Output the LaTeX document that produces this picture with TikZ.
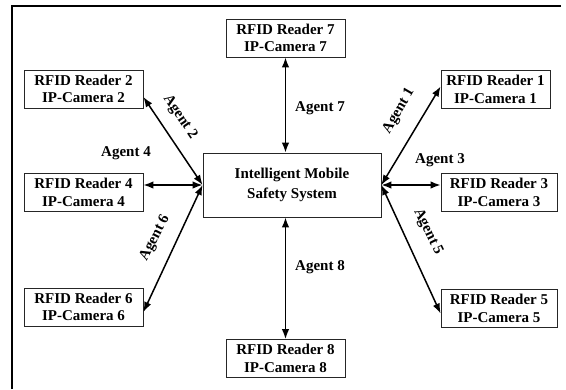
\documentclass[tikz,border=0pt]{standalone}
\usepackage{fontspec}
\setmainfont{Liberation Serif}
\usetikzlibrary{arrows.meta}
\begin{document}
\begin{tikzpicture}[x=1pt,y=-1pt,
  reader/.style={draw=black!85, line width=0.8pt, minimum width=119pt, minimum height=38pt,
    align=center, inner sep=2pt, font=\fontsize{15}{17.5}\selectfont\bfseries},
  central/.style={draw=black!85, line width=0.8pt, minimum width=178pt, minimum height=64pt,
    align=center, font=\fontsize{15}{20}\selectfont\bfseries},
  link/.style={line width=1.5pt, {Latex[length=10pt,width=7.5pt]}-{Latex[length=10pt,width=7.5pt]}},
  lbl/.style={font=\fontsize{15}{17}\selectfont\bfseries, inner sep=0pt},
  frame/.style={line width=1.8pt}]
\useasboundingbox (0,0) rectangle (566,389);
% frame (top and left edges)
\coordinate (fbl) at (12,389);
\coordinate (ftl) at (12,6);
\coordinate (ftr) at (561,6);
\draw[frame] (fbl) -- (ftl) -- (ftr);
% nodes
\node[central] (C) at (292,185) {Intelligent Mobile\\Safety System};
\node[reader] (R7) at (285.5,38) {RFID Reader 7\\IP-Camera 7};
\node[reader] (R2) at (83.5,89) {RFID Reader 2\\IP-Camera 2};
\node[reader, minimum width=109pt] (R1) at (495.5,89.5) {RFID Reader 1\\IP-Camera 1};
\node[reader] (R4) at (83.5,192.5) {RFID Reader 4\\IP-Camera 4};
\node[reader, minimum width=116pt] (R3) at (499,192.5) {RFID Reader 3\\IP-Camera 3};
\node[reader] (R6) at (83.5,307) {RFID Reader 6\\IP-Camera 6};
\node[reader, minimum width=116pt] (R5) at (499,308.5) {RFID Reader 5\\IP-Camera 5};
\node[reader] (R8) at (285.5,358.5) {RFID Reader 8\\IP-Camera 8};
% connector ends
\coordinate (e2) at ([yshift=-8pt]R2.east);
\coordinate (e1) at ([yshift=3pt]R1.west);
\coordinate (e6) at ([yshift=-5pt]R6.east);
\coordinate (e5) at ([yshift=-5pt]R5.west);
% connectors
\draw[link] (R7.south) -- (R7.south |- C.north);
\draw[link] (C.south -| R8.north) -- (R8.north);
\draw[link] (C.west) -- (C.west -| R4.east);
\draw[link] (C.east) -- (C.east -| R3.west);
\draw[link] (C.west) -- (e2);
\draw[link] (C.east) -- (e1);
\draw[link] (C.west) -- (e6);
\draw[link] (C.east) -- (e5);
% labels
\node[lbl] (a7) at (320,108) {Agent 7};
\node[lbl] (a8) at (320,267) {Agent 8};
\node[lbl] (a4) at (126,153) {Agent 4};
\node[lbl] (a3) at (440,160) {Agent 3};
\node[lbl, rotate=-56] (a2) at (180,117) {Agent 2};
\node[lbl, rotate=60] (a1) at (399,111) {Agent 1};
\node[lbl, rotate=63] (a6) at (155,238) {Agent 6};
\node[lbl, rotate=-64] (a5) at (428,232) {Agent 5};
\end{tikzpicture}
\end{document}
